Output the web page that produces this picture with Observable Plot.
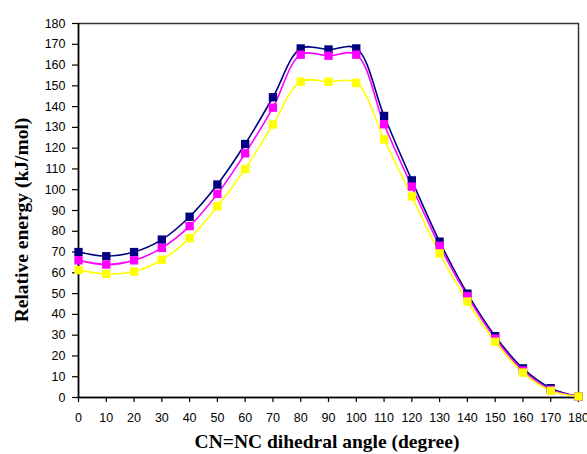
<!DOCTYPE html>
<html><head><meta charset="utf-8">
<script src="https://cdn.jsdelivr.net/npm/d3@7"></script>
<script src="https://cdn.jsdelivr.net/npm/@observablehq/plot@0.6"></script>
<style>body{margin:0;background:#fff;} svg{display:block;}</style>
</head><body><div id="chart"></div>
<script>
const angles = [0,10,20,30,40,50,60,70,80,90,100,110,120,130,140,150,160,170,180];
const seriesNames = ["Series 1","Series 2","Series 3"];
const seriesColors = ["#000080","#FF00FF","#FFFF00"];
const series1 = [70,68,70,76,87,102.5,122,144.5,168,167.5,168,135.5,104.5,75,50,29.5,14,4.5,0.5];
const series2 = [66,64,66,72,82.5,98,117.5,139.5,165,164.5,165,131.5,101.5,73,48.8,28.4,13,3.7,0.5];
const series3 = [61.3,59.5,60.6,66.3,76.7,92,110,131.4,152,152,151.4,124.2,96.7,69.4,46.2,26.8,12,3.2,0.5];
const xTicks = [0,10,20,30,40,50,60,70,80,90,100,110,120,130,140,150,160,170,180];
const yTicks = [0,10,20,30,40,50,60,70,80,90,100,110,120,130,140,150,160,170,180];
const xTitle = "CN=NC dihedral angle (degree)";
const yTitle = "Relative energy (kJ/mol)";

const allSeries = [series1, series2, series3];
const data = allSeries.flatMap((vals, i) => vals.map((v, j) => ({angle: angles[j], energy: v, series: seriesNames[i]})));

const W = 587, H = 454;
const plot = Plot.plot({
  width: W, height: H,
  marginLeft: 78, marginRight: 9, marginTop: 23, marginBottom: 57,
  x: {domain: [0, 180]},
  y: {domain: [0, 180]},
  color: {domain: seriesNames, range: seriesColors},
  style: {fontFamily: "'Liberation Sans', Arial, sans-serif", fontSize: "12.5px", background: "#fff", color: "#000"},
  marks: [
    Plot.frame({stroke: "#333", strokeWidth: 1.5}),
    Plot.axisY(yTicks, {tickSize: 6, tickPadding: 7, label: null, stroke: "#000", strokeWidth: 1.2}),
    Plot.axisX(xTicks, {tickSize: 5, tickPadding: 11, label: null, stroke: "#000", strokeWidth: 1.2}),
    Plot.ruleX([0], {stroke: "#000", strokeWidth: 1.5}),
    Plot.ruleY([0], {stroke: "#000", strokeWidth: 1.5}),
    Plot.line(data, {x: "angle", y: "energy", z: "series", stroke: "series", curve: "catmull-rom", strokeWidth: 1.6}),
    Plot.dot(data, {x: "angle", y: "energy", fill: "series", symbol: "square", r: 4.7})
  ]
});

const svg = d3.select(plot);
svg.append("text")
  .attr("x", 327).attr("y", 448)
  .attr("text-anchor", "middle")
  .style("font-family", "'Liberation Serif', 'Times New Roman', serif")
  .style("font-weight", "bold").style("font-size", "19.5px")
  .text(xTitle);
svg.append("text")
  .attr("transform", "translate(28,220) rotate(-90)")
  .attr("text-anchor", "middle")
  .style("font-family", "'Liberation Serif', 'Times New Roman', serif")
  .style("font-weight", "bold").style("font-size", "19.5px")
  .text(yTitle);

document.getElementById("chart").appendChild(plot);
</script>
</body></html>
